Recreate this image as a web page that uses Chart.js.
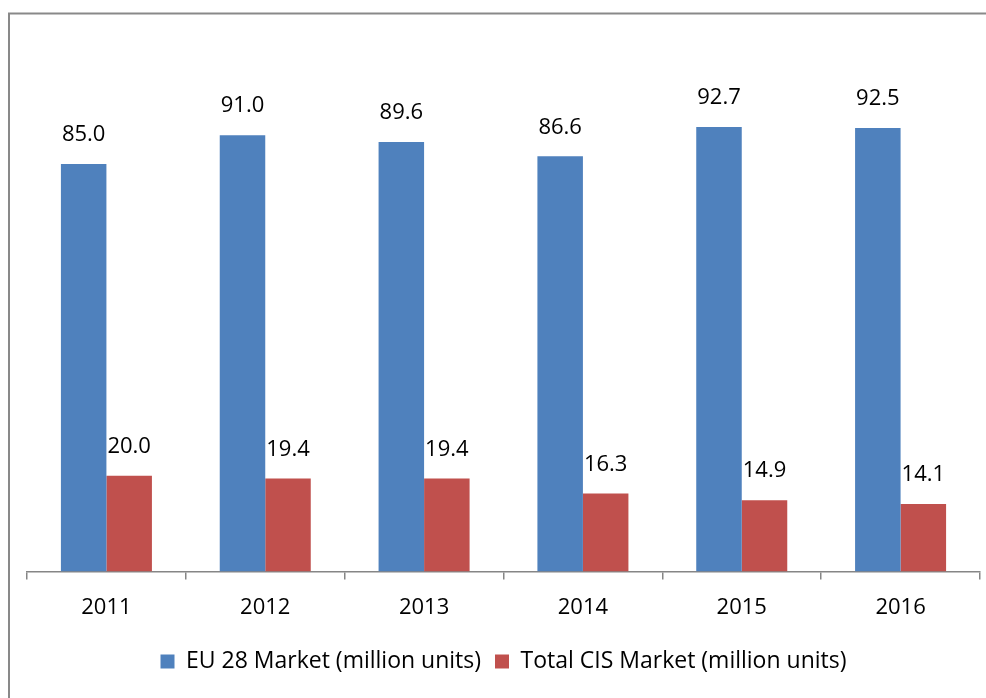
<!DOCTYPE html>
<html>
<head>
<meta charset="utf-8">
<script src="https://cdn.jsdelivr.net/npm/chart.js@4.4.0/dist/chart.umd.min.js"></script>
<style>
  html, body { margin: 0; padding: 0; background: #fff; }
  #wrap { position: relative; width: 986px; height: 698px; }
</style>
</head>
<body>
<div id="wrap"><canvas id="chart" width="986" height="698"></canvas></div>
<script>
// values
const years = ['2011', '2012', '2013', '2014', '2015', '2016'];
const euMarket = [85.0, 91.0, 89.6, 86.6, 92.7, 92.5];
const cisMarket = [20.0, 19.4, 19.4, 16.3, 14.9, 14.1];
const seriesNames = ['EU 28 Market (million units)', 'Total CIS Market (million units)'];

const FONT = '"Open Sans", sans-serif';

// outer frame like the spreadsheet chart border
const framePlugin = {
  id: 'frame',
  beforeDraw(chart) {
    const ctx = chart.ctx;
    ctx.save();
    ctx.strokeStyle = '#898989';
    ctx.lineWidth = 2;
    ctx.beginPath();
    ctx.moveTo(9, 700);
    ctx.lineTo(9, 13.5);
    ctx.lineTo(990, 13.5);
    ctx.stroke();
    ctx.restore();
  }
};

// value labels above each bar
const valueLabels = {
  id: 'valueLabels',
  afterDatasetsDraw(chart) {
    const ctx = chart.ctx;
    ctx.save();
    ctx.font = '22px ' + FONT;
    ctx.fillStyle = '#000';
    ctx.textAlign = 'center';
    ctx.textBaseline = 'middle';
    chart.data.datasets.forEach((ds, i) => {
      chart.getDatasetMeta(i).data.forEach((bar, j) => {
        ctx.fillText(ds.data[j].toFixed(1), bar.x, bar.y - 29);
      });
    });
    ctx.restore();
  }
};

new Chart(document.getElementById('chart'), {
  type: 'bar',
  data: {
    labels: years,
    datasets: [
      { label: seriesNames[0], data: euMarket, backgroundColor: '#4f81bd' },
      { label: seriesNames[1], data: cisMarket, backgroundColor: '#c0504d' }
    ]
  },
  options: {
    responsive: false,
    animation: false,
    layout: { padding: { left: 27, right: 6, top: 92, bottom: 15 } },
    datasets: {
      bar: { categoryPercentage: 0.573, barPercentage: 1 }
    },
    scales: {
      y: { display: false, min: 0, max: 100 },
      x: {
        grid: {
          display: true,
          drawOnChartArea: false,
          drawTicks: true,
          tickLength: 8,
          color: '#868686',
          lineWidth: 1.5
        },
        border: { display: true, color: '#868686', width: 1.5 },
        ticks: {
          color: '#000',
          padding: 15,
          font: { family: FONT, size: 22 }
        }
      }
    },
    plugins: {
      legend: {
        position: 'bottom',
        labels: {
          color: '#000',
          boxWidth: 14,
          boxHeight: 14,
          padding: 14,
          font: { family: FONT, size: 23 }
        }
      },
      tooltip: { enabled: false }
    }
  },
  plugins: [framePlugin, valueLabels]
});
</script>
</body>
</html>
